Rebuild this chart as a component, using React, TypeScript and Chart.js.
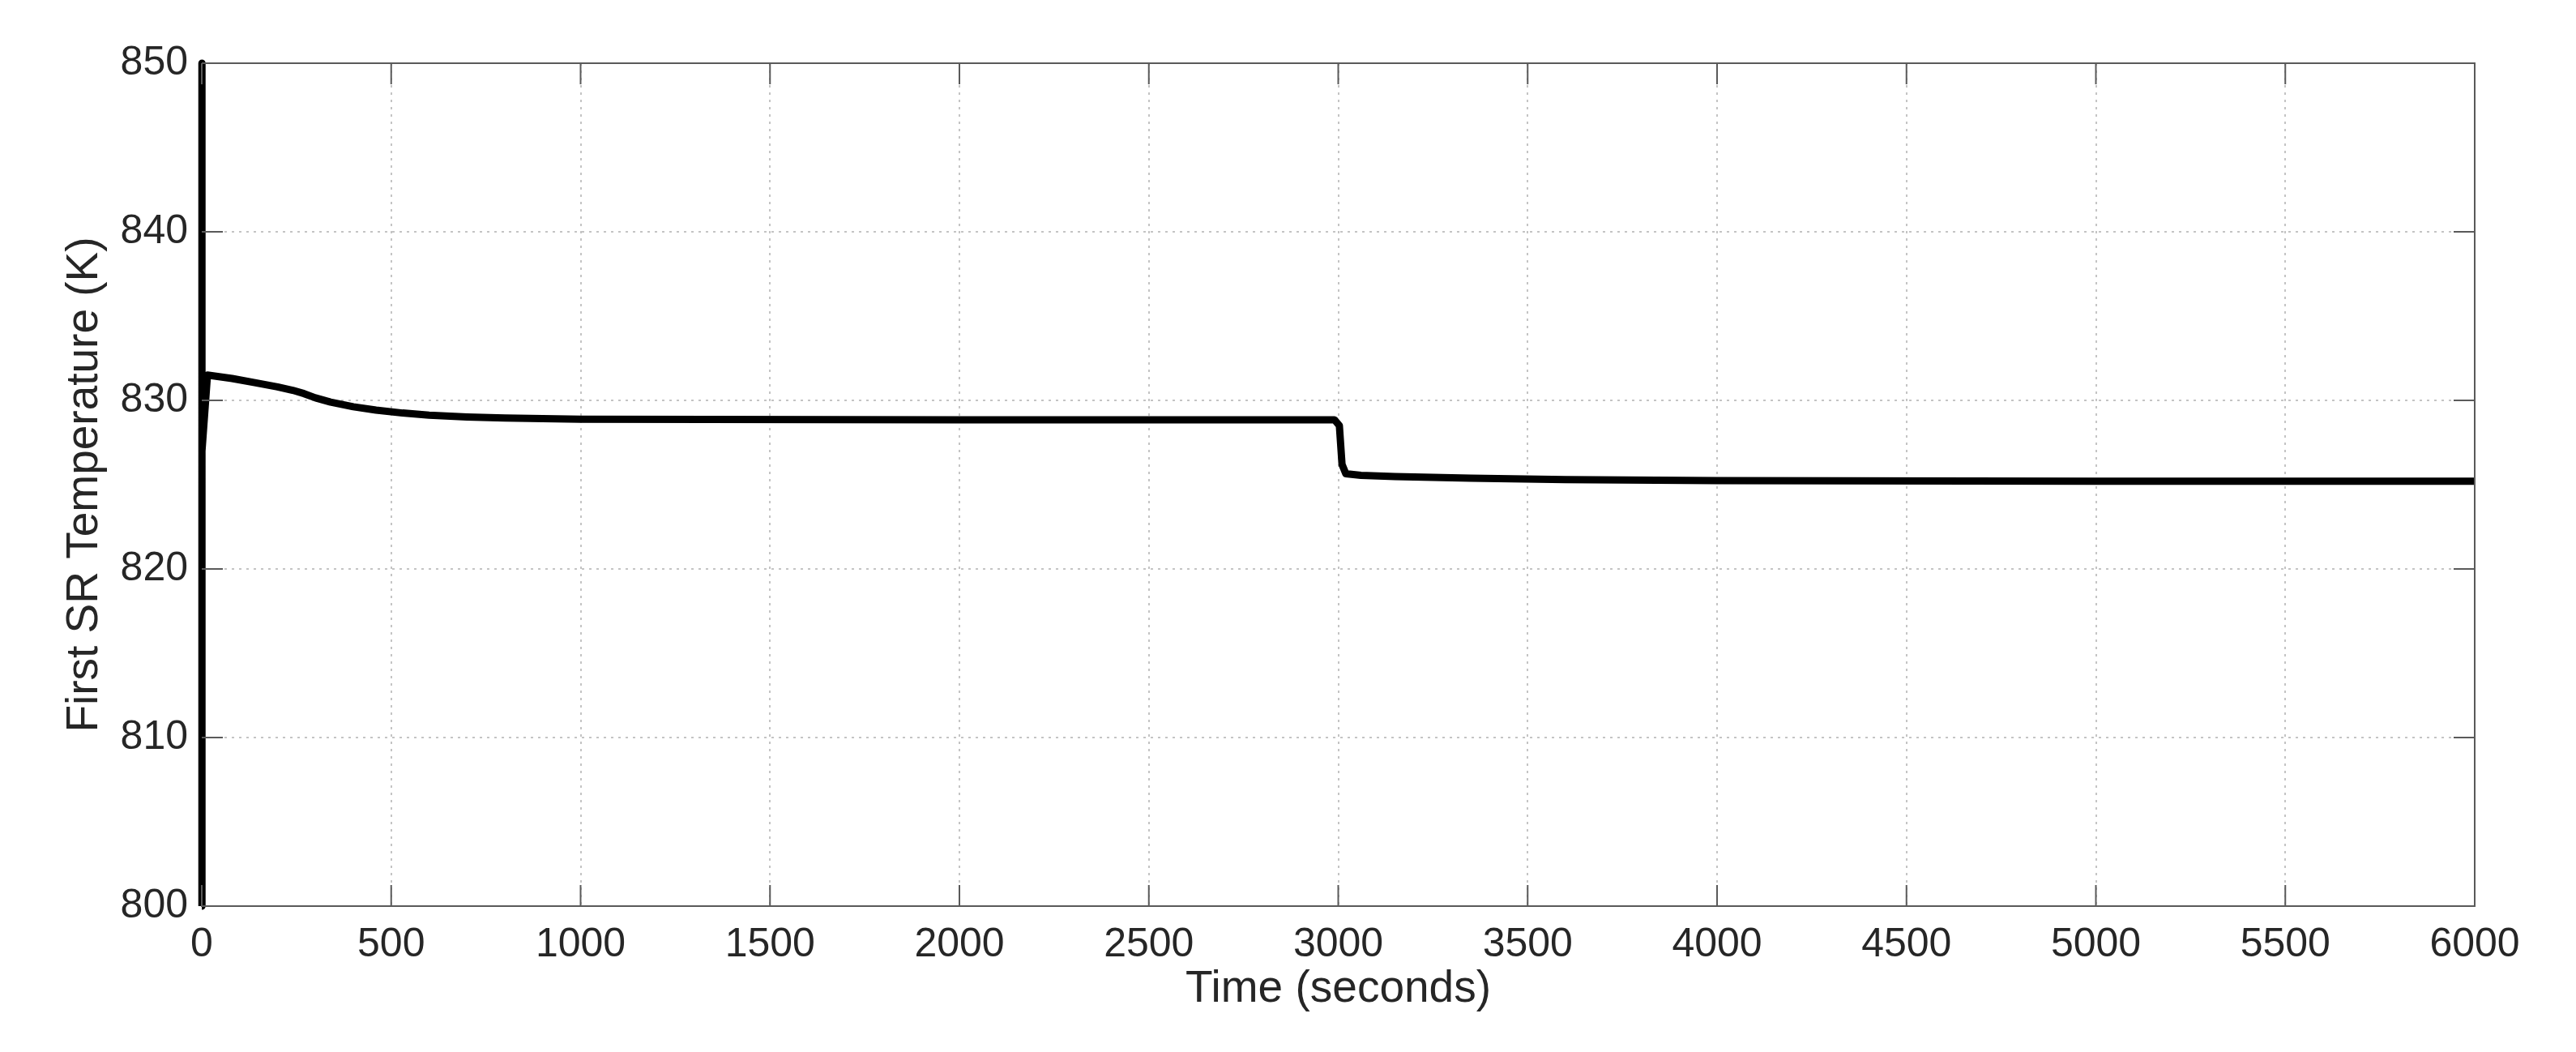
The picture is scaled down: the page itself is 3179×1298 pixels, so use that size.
import React, { useEffect, useRef } from "react";
import { Chart, registerables } from "chart.js";

Chart.register(...registerables);

const timeSeconds = [0, 0, 1, 15, 80, 140, 200, 240, 270, 300, 340, 400, 460, 530, 600, 700, 800, 1000, 2000, 2990, 3003, 3010, 3020, 3060, 3150, 3350, 3600, 4000, 5000, 6000];
const temperatureK = [800, 850, 827, 831.5, 831.3, 831.05, 830.8, 830.6, 830.4, 830.15, 829.9, 829.62, 829.42, 829.25, 829.12, 829.02, 828.95, 828.88, 828.85, 828.85, 828.5, 826.2, 825.65, 825.55, 825.48, 825.38, 825.3, 825.24, 825.2, 825.2];

const xTickMin = 0;
const xTickMax = 6000;
const xTickStep = 500;
const yTickMin = 800;
const yTickMax = 850;
const yTickStep = 10;

const xTitle = "Time (seconds)";
const yTitle = "First SR Temperature (K)";

const W = 3179;
const H = 1298;
const FONT = "'Liberation Sans', Arial, Helvetica, sans-serif";
const TEXT = "#262626";
const GRID = "#c4c4c4";

const boxPlugin = {
  id: "matlabBox",
  afterDatasetsDraw(chart: any) {
    const { ctx, chartArea, scales } = chart;
    const { left, right, top, bottom } = chartArea;
    const len = 26;
    ctx.save();
    ctx.strokeStyle = "#5a5a5a";
    ctx.lineWidth = 2;
    ctx.beginPath();
    ctx.moveTo(left, top);
    ctx.lineTo(right, top);
    ctx.lineTo(right, bottom);
    ctx.stroke();
    ctx.beginPath();
    scales.x.ticks.forEach((t: any) => {
      const px = scales.x.getPixelForValue(t.value);
      ctx.moveTo(px, bottom);
      ctx.lineTo(px, bottom - len);
      ctx.moveTo(px, top);
      ctx.lineTo(px, top + len);
    });
    scales.y.ticks.forEach((t: any) => {
      const py = scales.y.getPixelForValue(t.value);
      ctx.moveTo(left, py);
      ctx.lineTo(left + len, py);
      ctx.moveTo(right, py);
      ctx.lineTo(right - len, py);
    });
    ctx.stroke();
    ctx.restore();
  },
};

export default function App() {
  const ref = useRef<HTMLCanvasElement | null>(null);

  useEffect(() => {
    if (!ref.current) return;
    const points = timeSeconds.map((t, i) => ({ x: t, y: temperatureK[i] }));
    const chart = new Chart(ref.current, {
      type: "line",
      data: {
        datasets: [
          {
            data: points,
            borderColor: "#000000",
            borderWidth: 9,
            pointRadius: 0,
            tension: 0,
            fill: false,
            clip: 12,
            borderJoinStyle: "round",
            borderCapStyle: "butt",
          },
        ],
      },
      options: {
        responsive: false,
        animation: false,
        devicePixelRatio: 1,
        layout: { padding: { top: 78, right: 125, left: 0, bottom: 0 } },
        plugins: { legend: { display: false }, tooltip: { enabled: false } },
        scales: {
          x: {
            type: "linear",
            min: xTickMin,
            max: xTickMax,
            afterFit: (s: any) => {
              s.height = 180;
            },
            ticks: {
              stepSize: xTickStep,
              autoSkip: false,
              maxRotation: 0,
              padding: 18,
              color: TEXT,
              font: { family: FONT, size: 50 },
              callback: (v: any) => String(v),
            },
            grid: {
              drawTicks: false,
              color: GRID,
              lineWidth: 2,
            },
            border: { display: true, color: "#5a5a5a", width: 2, dash: [3, 6] },
            title: {
              display: true,
              text: xTitle,
              color: TEXT,
              font: { family: FONT, size: 55 },
              padding: { top: 0, bottom: 44 },
            },
          },
          y: {
            type: "linear",
            min: yTickMin,
            max: yTickMax,
            afterFit: (s: any) => {
              s.width = 249;
            },
            ticks: {
              stepSize: yTickStep,
              autoSkip: false,
              padding: 17,
              color: TEXT,
              font: { family: FONT, size: 50 },
              callback: (v: any) => String(v),
            },
            grid: {
              drawTicks: false,
              color: GRID,
              lineWidth: 2,
            },
            border: { display: true, color: "#5a5a5a", width: 2, dash: [3, 6] },
            title: {
              display: true,
              text: yTitle,
              color: TEXT,
              font: { family: FONT, size: 55 },
              padding: { top: 72, bottom: 0 },
            },
          },
        },
      },
      plugins: [boxPlugin],
    });
    return () => chart.destroy();
  }, []);

  return (
    <div style={{ position: "absolute", left: 0, top: 0, width: W, height: H, background: "#fff" }}>
      <canvas ref={ref} width={W} height={H} style={{ width: W, height: H, display: "block" }} />
    </div>
  );
}
